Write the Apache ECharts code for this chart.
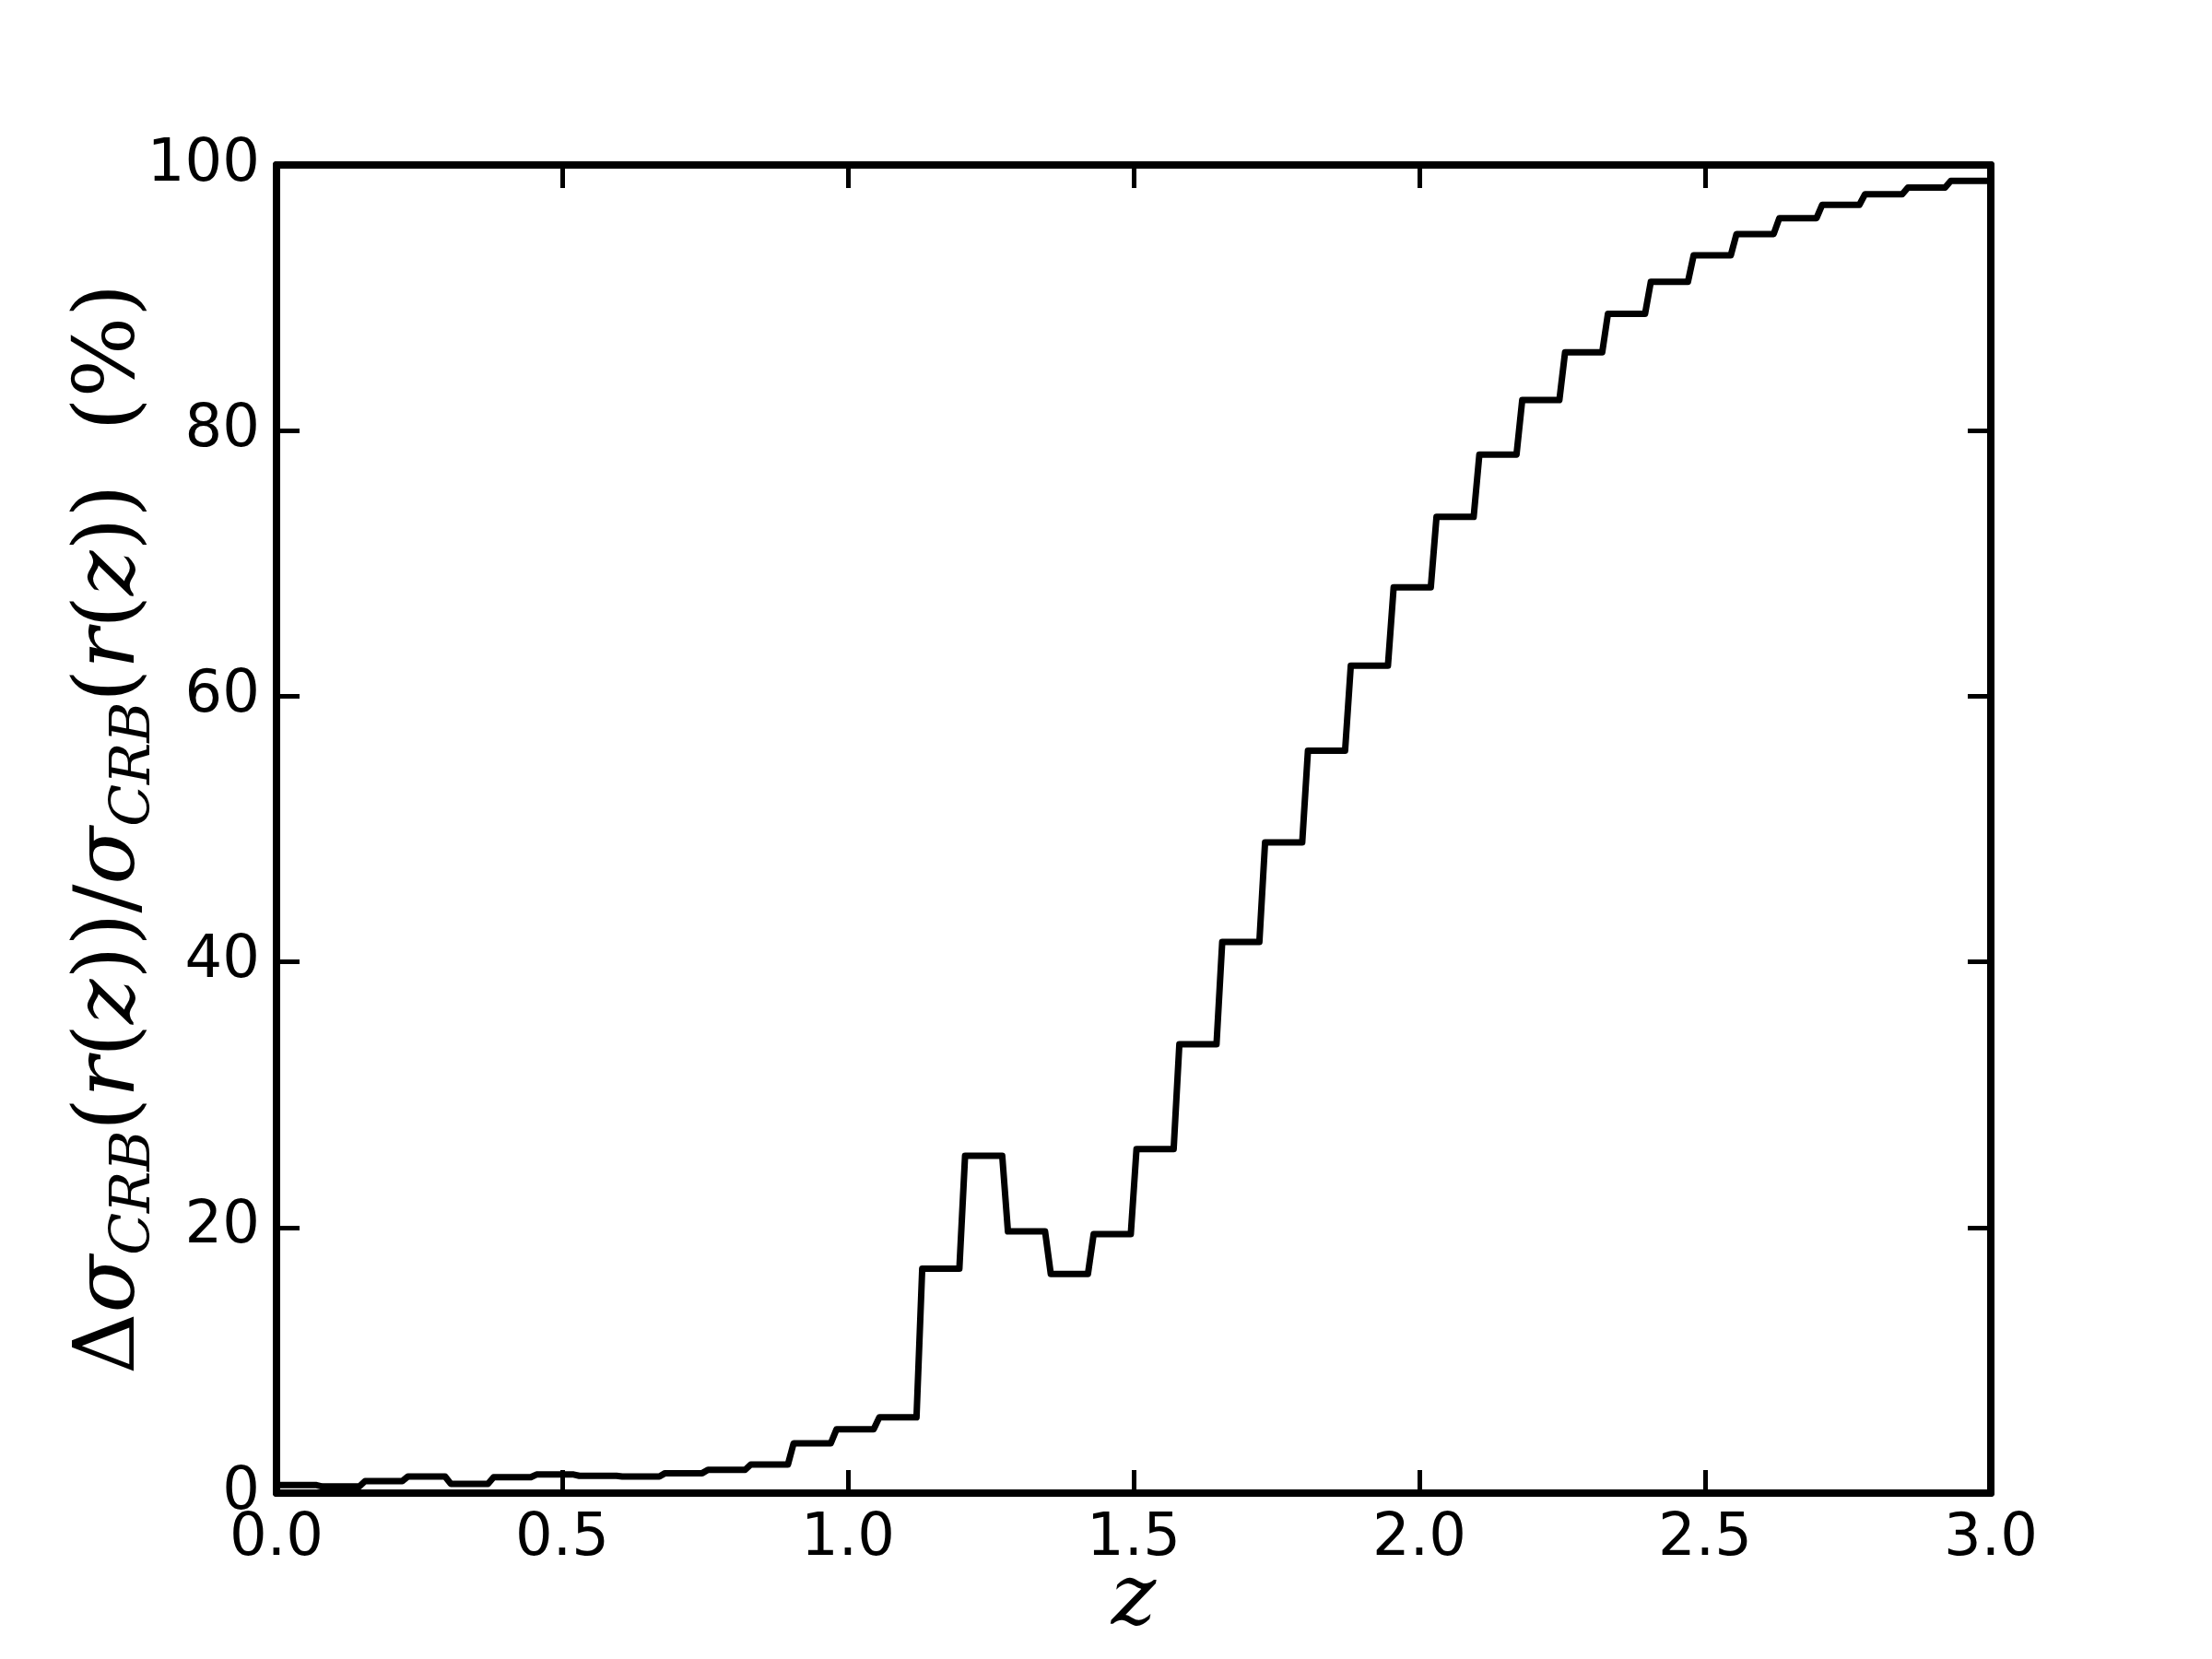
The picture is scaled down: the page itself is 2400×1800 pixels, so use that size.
<!DOCTYPE html>
<html>
<head>
<meta charset="utf-8">
<script src="https://cdn.jsdelivr.net/npm/echarts@6/dist/echarts.min.js"></script>
<style>
  html, body { margin: 0; padding: 0; background: #fff; }
  #chart { width: 2400px; height: 1800px; }
</style>
</head>
<body>
<div id="chart"></div>
<script>
  // bin edges in z (40 bins)
  var zEdges = [0.0, 0.075, 0.15, 0.225, 0.3, 0.375, 0.45, 0.525, 0.6, 0.675,
    0.75, 0.825, 0.9, 0.975, 1.05, 1.125, 1.2, 1.275, 1.35, 1.425,
    1.5, 1.575, 1.65, 1.725, 1.8, 1.875, 1.95, 2.025, 2.1, 2.175,
    2.25, 2.325, 2.4, 2.475, 2.55, 2.625, 2.7, 2.775, 2.85, 2.925, 3.0]
  // relative difference (%) per bin
  var deltaPct = [0.6, 0.5, 0.9, 1.25, 0.7, 1.2, 1.4, 1.3, 1.25, 1.5,
    1.75, 2.15, 3.75, 4.8, 5.7, 16.9, 25.4, 19.7, 16.5, 19.5,
    25.9, 33.8, 41.5, 49.0, 55.9, 62.3, 68.2, 73.5, 78.2, 82.3,
    85.9, 88.8, 91.2, 93.2, 94.8, 96.0, 97.0, 97.8, 98.3, 98.8]
  var xTicks = [0, 0.5, 1.0, 1.5, 2.0, 2.5, 3.0]
  var yTicks = [0, 20, 40, 60, 80, 100]

  var inset = 0.005
  var stepData = []
  for (var i = 0; i < deltaPct.length; i++) {
    var lo = zEdges[i] + (i === 0 ? 0 : inset)
    var hi = zEdges[i + 1] - (i === deltaPct.length - 1 ? 0 : inset)
    stepData.push([lo, deltaPct[i]])
    stepData.push([hi, deltaPct[i]])
  }

  var chart = echarts.init(document.getElementById('chart'))
  var tickFont = { color: '#000', fontSize: 64, fontFamily: 'DejaVu Sans' }
  var spine = { show: true, onZero: false, lineStyle: { color: '#000', width: 8 } }
  var tick = { show: true, inside: true, length: 25, lineStyle: { color: '#000', width: 5 } }

  chart.setOption({
    backgroundColor: '#fff',
    animation: false,
    grid: { left: 300, right: 240, top: 179, bottom: 180, containLabel: false },
    xAxis: [{
      type: 'value', min: 0, max: 3, interval: 0.5,
      axisLine: spine, axisTick: tick, splitLine: { show: false },
      axisLabel: Object.assign({ margin: 18, formatter: function (v) { return v.toFixed(1) } }, tickFont),
      name: 'z', nameLocation: 'middle', nameGap: 72, nameMoveOverlap: false,
      nameTextStyle: { fontFamily: 'DejaVu Serif', fontStyle: 'italic', fontSize: 92, color: '#000' }
    }, {
      type: 'value', min: 0, max: 3, interval: 0.5, position: 'top',
      axisLine: spine, axisTick: tick, axisLabel: { show: false }, splitLine: { show: false }
    }],
    yAxis: [{
      type: 'value', min: 0, max: 100, interval: 20,
      axisLine: spine, axisTick: tick, splitLine: { show: false },
      axisLabel: Object.assign({ margin: 18 }, tickFont),
      name: '{n|Δ}{i|σ}{s|CRB}{n|(}{i|r}{n|(}{i|z}{n|))/}{i|σ}{s|CRB}{n|(}{i|r}{n|(}{i|z}{n|))  (%)}',
      nameLocation: 'middle', nameGap: 124, nameRotate: 90, nameMoveOverlap: false,
      nameTextStyle: {
        color: '#000',
        rich: {
          n: { fontFamily: 'DejaVu Serif', fontSize: 92, color: '#000', lineHeight: 110, verticalAlign: 'middle' },
          i: { fontFamily: 'DejaVu Serif', fontStyle: 'italic', fontSize: 92, color: '#000', lineHeight: 110, verticalAlign: 'middle' },
          s: { fontFamily: 'DejaVu Serif', fontStyle: 'italic', fontSize: 60, color: '#000', verticalAlign: 'bottom', lineHeight: 110, padding: [34, 0, 0, 0] }
        }
      }
    }, {
      type: 'value', min: 0, max: 100, interval: 20, position: 'right',
      axisLine: spine, axisTick: tick, axisLabel: { show: false }, splitLine: { show: false }
    }],
    series: [{
      type: 'line',
      data: stepData,
      showSymbol: false,
      symbol: 'none',
      clip: true,
      lineStyle: { color: '#000', width: 7, cap: 'round', join: 'round' }
    }]
  })
</script>
</body>
</html>
